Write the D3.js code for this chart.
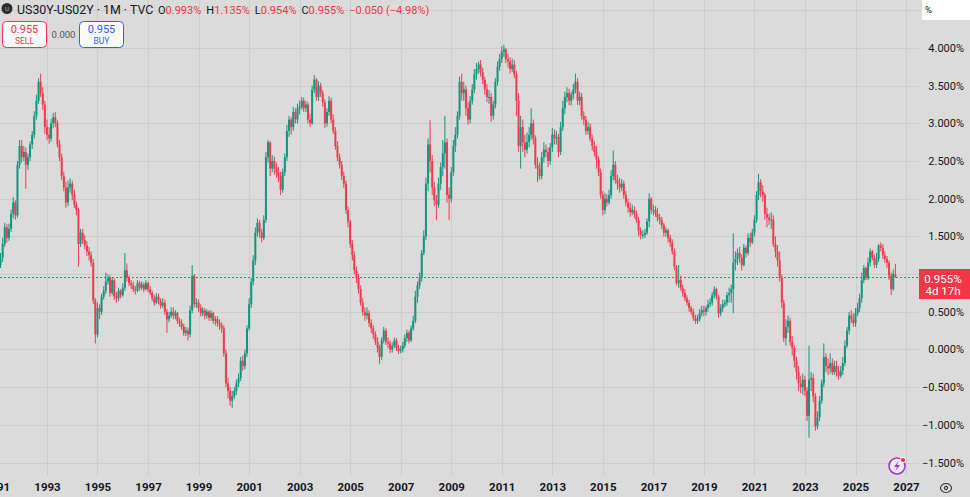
<!DOCTYPE html>
<html>
<head>
<meta charset="utf-8">
<script src="https://cdn.jsdelivr.net/npm/d3@7"></script>
<style>
    html, body { margin: 0; padding: 0; background: #dbdbdb; }
    svg { display: block; font-family: Roboto, "Noto Sans", sans-serif; }
</style>
</head>
<body>
<svg id="chart" width="970" height="497"></svg>
<script>
// Monthly candles of US30Y-US02Y, first candle is Jan 1991, one row per year
const firstMonth = new Date(1991, 0, 1);

const opens = [
    1.05, 1.15, 1.12, 1.22, 1.40, 1.62, 1.48, 1.60, 1.80, 1.95, 1.78, 2.45,
    2.70, 2.55, 2.62, 2.45, 2.55, 2.72, 2.85, 3.10, 3.30, 3.55, 3.40, 3.25,
    2.95, 2.85, 2.80, 3.00, 3.08, 3.00, 2.72, 2.55, 2.30, 2.15, 1.95, 2.15,
    2.20, 2.05, 1.92, 1.85, 1.40, 1.55, 1.45, 1.38, 1.30, 1.25, 1.15, 0.65,
    0.20, 0.55, 0.50, 0.70, 0.78, 0.90, 0.95, 0.75, 0.92, 0.70, 0.68, 0.78,
    0.72, 0.82, 1.05, 0.95, 0.88, 0.85, 0.80, 0.78, 0.88, 0.82, 0.86, 0.80,
    0.88, 0.80, 0.75, 0.68, 0.62, 0.70, 0.65, 0.58, 0.62, 0.50, 0.40, 0.45,
    0.50, 0.45, 0.48, 0.38, 0.35, 0.30, 0.22, 0.25, 0.20, 0.52, 0.98, 0.60,
    0.62, 0.55, 0.48, 0.52, 0.45, 0.50, 0.42, 0.48, 0.38, 0.40, 0.35, 0.32,
    0.28, -0.05, -0.45, -0.55, -0.68, -0.62, -0.55, -0.45, -0.38, -0.15, -0.22, -0.05,
    0.28, 0.60, 0.90, 1.18, 1.55, 1.68, 1.55, 1.48, 1.72, 2.55, 2.75, 2.40,
    2.50, 2.40, 2.35, 2.30, 2.12, 2.35, 2.55, 2.90, 3.05, 2.95, 3.15, 3.05,
    3.20, 3.22, 3.30, 3.20, 3.25, 3.05, 3.00, 3.45, 3.58, 3.35, 3.50, 3.40,
    3.28, 3.00, 3.15, 3.30, 3.05, 2.90, 2.70, 2.55, 2.45, 2.30, 2.20, 1.85,
    1.70, 1.40, 1.25, 1.05, 0.95, 0.80, 0.62, 0.50, 0.45, 0.48, 0.35, 0.28,
    0.20, 0.10, 0.02, -0.10, 0.12, 0.25, 0.10, 0.08, 0.00, 0.05, 0.12, 0.02,
    -0.02, 0.00, 0.05, 0.15, 0.22, 0.12, 0.28, 0.38, 0.70, 0.85, 0.95, 1.28,
    1.50, 2.20, 2.72, 2.50, 2.15, 1.98, 1.92, 2.20, 2.42, 2.60, 2.75, 2.05,
    2.00, 2.35, 2.70, 2.85, 3.10, 3.55, 3.40, 3.45, 3.20, 3.05, 3.30, 3.45,
    3.65, 3.72, 3.78, 3.68, 3.58, 3.45, 3.35, 3.35, 3.10, 3.25, 3.55, 3.75,
    3.85, 3.95, 3.98, 3.85, 3.82, 3.72, 3.78, 3.65, 3.30, 2.70, 2.95, 2.75,
    2.65, 2.75, 2.85, 3.00, 2.80, 2.45, 2.40, 2.30, 2.55, 2.65, 2.62, 2.50,
    2.68, 2.85, 2.80, 2.82, 2.62, 2.95, 3.20, 3.35, 3.40, 3.30, 3.38, 3.45,
    3.55, 3.30, 3.35, 3.10, 3.05, 2.90, 2.95, 2.80, 2.70, 2.62, 2.52, 2.35,
    2.05, 1.85, 2.00, 1.95, 2.05, 2.30, 2.45, 2.25, 2.20, 2.15, 2.20, 2.05,
    1.95, 1.88, 1.82, 1.85, 1.80, 1.72, 1.58, 1.52, 1.52, 1.55, 1.70, 2.00,
    1.85, 1.85, 1.80, 1.75, 1.72, 1.65, 1.55, 1.58, 1.48, 1.42, 1.30, 1.10,
    0.88, 0.92, 0.82, 0.75, 0.68, 0.62, 0.55, 0.50, 0.42, 0.38, 0.40, 0.48,
    0.52, 0.50, 0.55, 0.60, 0.62, 0.72, 0.80, 0.70, 0.48, 0.55, 0.60, 0.62,
    0.72, 0.75, 0.80, 1.15, 1.20, 1.28, 1.22, 1.12, 1.35, 1.28, 1.48, 1.42,
    1.55, 1.72, 2.05, 2.22, 2.10, 2.05, 1.80, 1.75, 1.72, 1.72, 1.40, 1.30,
    1.18, 0.95, 0.62, 0.15, 0.30, 0.38, 0.10, 0.02, -0.15, -0.30, -0.45, -0.50,
    -0.40, -0.55, -0.88, -0.40, -0.38, -0.62, -1.02, -0.90, -0.68, -0.45, -0.10, -0.22,
    -0.25, -0.18, -0.30, -0.22, -0.30, -0.35, -0.28, -0.18, 0.05, 0.25, 0.45, 0.40,
    0.35, 0.48, 0.55, 0.68, 0.92, 1.08, 0.95, 1.15, 1.30, 1.22, 1.12, 1.20,
    1.38, 1.35, 1.25, 1.20, 1.15, 0.98, 0.80, 0.993
];

const highs = [
    1.25, 1.22, 1.28, 1.48, 1.68, 1.66, 1.67, 1.86, 2.02, 1.98, 2.50, 2.78,
    2.78, 2.70, 2.68, 2.60, 2.76, 2.90, 3.16, 3.38, 3.60, 3.66, 3.48, 3.30,
    3.05, 2.95, 3.06, 3.14, 3.15, 3.04, 2.78, 2.60, 2.36, 2.22, 2.24, 2.27,
    2.24, 2.12, 1.96, 1.88, 1.60, 1.60, 1.52, 1.44, 1.36, 1.30, 1.20, 0.68,
    0.62, 0.60, 0.74, 0.84, 1.02, 1.00, 0.98, 0.96, 0.94, 0.76, 0.82, 0.80,
    0.88, 1.28, 1.14, 0.98, 0.92, 0.90, 0.84, 0.92, 0.91, 0.90, 0.89, 0.92,
    0.90, 0.84, 0.78, 0.72, 0.75, 0.74, 0.68, 0.68, 0.66, 0.54, 0.50, 0.56,
    0.56, 0.52, 0.50, 0.42, 0.40, 0.34, 0.30, 0.29, 0.58, 1.12, 1.00, 0.68,
    0.66, 0.60, 0.56, 0.55, 0.53, 0.52, 0.52, 0.50, 0.44, 0.44, 0.40, 0.36,
    0.32, 0.00, -0.38, -0.50, -0.55, -0.50, -0.40, -0.32, -0.10, -0.08, 0.00, 0.32,
    0.68, 0.95, 1.25, 1.62, 1.74, 1.72, 1.60, 1.78, 2.62, 2.78, 2.76, 2.58,
    2.56, 2.48, 2.42, 2.36, 2.40, 2.60, 2.98, 3.10, 3.08, 3.22, 3.20, 3.26,
    3.30, 3.35, 3.34, 3.30, 3.28, 3.12, 3.50, 3.64, 3.60, 3.56, 3.54, 3.44,
    3.32, 3.20, 3.36, 3.34, 3.12, 2.95, 2.76, 2.60, 2.50, 2.36, 2.24, 1.90,
    1.72, 1.45, 1.30, 1.10, 1.00, 0.85, 0.68, 0.56, 0.56, 0.52, 0.40, 0.32,
    0.24, 0.16, 0.06, 0.16, 0.30, 0.28, 0.16, 0.12, 0.09, 0.16, 0.15, 0.06,
    0.05, 0.10, 0.20, 0.26, 0.25, 0.32, 0.45, 0.78, 0.90, 1.02, 1.32, 1.58,
    2.28, 2.80, 3.04, 2.58, 2.22, 2.05, 2.28, 2.48, 2.78, 3.10, 2.80, 2.15,
    2.42, 2.78, 2.95, 3.16, 3.62, 3.66, 3.55, 3.50, 3.28, 3.36, 3.52, 3.72,
    3.80, 3.82, 3.84, 3.74, 3.62, 3.52, 3.44, 3.40, 3.30, 3.60, 3.82, 3.92,
    4.02, 4.04, 4.00, 3.92, 3.88, 3.86, 3.84, 3.70, 3.40, 3.10, 3.05, 2.85,
    2.88, 2.95, 3.20, 3.05, 2.84, 2.55, 2.48, 2.62, 2.75, 2.72, 2.68, 2.74,
    2.94, 2.92, 2.90, 2.86, 3.02, 3.30, 3.42, 3.48, 3.46, 3.42, 3.52, 3.66,
    3.60, 3.42, 3.40, 3.16, 3.10, 3.02, 3.00, 2.85, 2.76, 2.70, 2.56, 2.40,
    2.10, 2.08, 2.06, 2.12, 2.38, 2.64, 2.50, 2.32, 2.28, 2.26, 2.24, 2.10,
    2.00, 1.95, 1.92, 1.90, 1.84, 1.76, 1.62, 1.58, 1.60, 1.74, 2.07, 2.02,
    1.92, 1.90, 1.88, 1.80, 1.76, 1.68, 1.62, 1.60, 1.52, 1.46, 1.34, 1.12,
    1.12, 0.98, 0.86, 0.80, 0.72, 0.66, 0.58, 0.54, 0.46, 0.46, 0.54, 0.58,
    0.58, 0.58, 0.66, 0.68, 0.76, 0.84, 0.82, 0.72, 0.60, 0.66, 0.66, 0.76,
    0.82, 0.86, 1.54, 1.30, 1.34, 1.36, 1.26, 1.40, 1.38, 1.54, 1.55, 1.60,
    1.78, 2.10, 2.33, 2.26, 2.18, 2.08, 1.88, 1.80, 1.82, 1.78, 1.50, 1.38,
    1.30, 1.00, 0.66, 0.40, 0.45, 0.42, 0.18, 0.06, -0.10, -0.22, -0.35, -0.32,
    -0.35, -0.50, 0.05, -0.30, -0.32, -0.58, -0.82, -0.62, -0.40, 0.08, -0.05, -0.12,
    -0.05, -0.12, -0.15, -0.15, -0.22, -0.22, -0.10, 0.12, 0.30, 0.50, 0.52, 0.48,
    0.55, 0.62, 0.74, 1.02, 1.12, 1.10, 1.22, 1.34, 1.32, 1.26, 1.28, 1.40,
    1.42, 1.40, 1.30, 1.24, 1.18, 1.02, 1.06, 1.135
];

const lows = [
    1.00, 1.05, 1.08, 1.16, 1.36, 1.42, 1.44, 1.56, 1.74, 1.72, 1.75, 2.40,
    2.48, 2.50, 2.13, 2.38, 2.50, 2.66, 2.80, 3.05, 3.26, 3.35, 3.18, 2.86,
    2.78, 2.73, 2.76, 2.94, 2.95, 2.68, 2.50, 2.25, 2.10, 1.88, 1.90, 2.08,
    1.98, 1.88, 1.78, 1.10, 1.36, 1.40, 1.33, 1.24, 1.18, 1.10, 0.60, 0.08,
    0.16, 0.40, 0.46, 0.66, 0.74, 0.86, 0.70, 0.72, 0.66, 0.62, 0.64, 0.68,
    0.70, 0.78, 0.90, 0.84, 0.80, 0.76, 0.73, 0.76, 0.78, 0.79, 0.76, 0.78,
    0.76, 0.72, 0.64, 0.58, 0.60, 0.60, 0.54, 0.55, 0.46, 0.22, 0.36, 0.42,
    0.40, 0.40, 0.34, 0.30, 0.26, 0.18, 0.18, 0.12, 0.16, 0.48, 0.56, 0.55,
    0.50, 0.44, 0.44, 0.40, 0.41, 0.38, 0.38, 0.34, 0.32, 0.30, 0.26, 0.22,
    -0.10, -0.50, -0.65, -0.75, -0.78, -0.66, -0.60, -0.50, -0.42, -0.28, -0.26, -0.10,
    0.25, 0.55, 0.85, 1.12, 1.50, 1.48, 1.42, 1.45, 1.68, 2.48, 2.30, 2.35,
    2.32, 2.28, 2.22, 2.05, 2.08, 2.30, 2.50, 2.82, 2.85, 2.90, 3.00, 3.00,
    3.12, 3.18, 3.15, 3.15, 3.00, 2.95, 2.98, 3.40, 3.30, 3.30, 3.35, 3.22,
    2.94, 2.96, 3.10, 3.00, 2.86, 2.65, 2.50, 2.40, 2.25, 2.14, 1.80, 1.62,
    1.35, 1.18, 1.00, 0.88, 0.74, 0.58, 0.45, 0.38, 0.40, 0.30, 0.22, 0.14,
    0.06, -0.04, -0.19, -0.14, 0.08, 0.06, 0.02, -0.05, -0.04, 0.02, -0.02, -0.06,
    -0.05, -0.04, 0.02, 0.10, 0.08, 0.10, 0.25, 0.35, 0.62, 0.80, 0.90, 1.25,
    1.45, 2.10, 2.35, 2.05, 1.90, 1.72, 1.88, 2.12, 2.30, 2.40, 1.95, 1.72,
    1.95, 2.30, 2.62, 2.80, 3.05, 3.30, 3.30, 3.10, 2.98, 3.00, 3.25, 3.40,
    3.58, 3.66, 3.62, 3.52, 3.38, 3.28, 3.26, 3.02, 3.05, 3.20, 3.50, 3.70,
    3.80, 3.88, 3.80, 3.74, 3.66, 3.68, 3.60, 3.10, 2.62, 2.40, 2.62, 2.55,
    2.60, 2.68, 2.78, 2.72, 2.40, 2.22, 2.25, 2.26, 2.48, 2.55, 2.42, 2.45,
    2.62, 2.72, 2.72, 2.55, 2.58, 2.90, 3.12, 3.28, 3.24, 3.24, 3.32, 3.40,
    3.24, 3.24, 3.05, 2.98, 2.85, 2.85, 2.76, 2.64, 2.56, 2.40, 2.30, 2.00,
    1.78, 1.80, 1.90, 1.92, 2.00, 2.24, 2.20, 2.12, 2.08, 2.10, 2.00, 1.90,
    1.82, 1.76, 1.78, 1.74, 1.68, 1.50, 1.46, 1.47, 1.48, 1.52, 1.62, 1.80,
    1.78, 1.76, 1.70, 1.66, 1.60, 1.50, 1.50, 1.42, 1.36, 1.26, 1.05, 0.85,
    0.82, 0.78, 0.70, 0.64, 0.58, 0.50, 0.46, 0.38, 0.34, 0.34, 0.37, 0.44,
    0.44, 0.45, 0.50, 0.56, 0.58, 0.68, 0.66, 0.42, 0.44, 0.50, 0.56, 0.58,
    0.62, 0.62, 0.48, 1.05, 1.12, 1.15, 1.05, 1.10, 1.22, 1.25, 1.36, 1.40,
    1.50, 1.68, 1.98, 2.02, 1.96, 1.72, 1.62, 1.65, 1.60, 1.36, 1.22, 1.10,
    0.90, 0.55, 0.10, 0.05, 0.22, 0.05, -0.08, -0.24, -0.40, -0.55, -0.58, -0.60,
    -0.62, -0.95, -1.17, -0.55, -0.70, -1.08, -1.06, -0.95, -0.72, -0.50, -0.30, -0.34,
    -0.32, -0.34, -0.34, -0.36, -0.40, -0.38, -0.34, -0.22, 0.02, 0.20, 0.35, 0.30,
    0.30, 0.44, 0.50, 0.62, 0.88, 0.92, 0.92, 1.10, 1.18, 1.08, 1.08, 1.16,
    1.30, 1.20, 1.15, 1.08, 0.92, 0.72, 0.78, 0.954
];

const closes = [
    1.15, 1.12, 1.22, 1.40, 1.62, 1.48, 1.60, 1.80, 1.95, 1.78, 2.45, 2.70,
    2.55, 2.62, 2.45, 2.55, 2.72, 2.85, 3.10, 3.30, 3.55, 3.40, 3.25, 2.95,
    2.85, 2.80, 3.00, 3.08, 3.00, 2.72, 2.55, 2.30, 2.15, 1.95, 2.15, 2.20,
    2.05, 1.92, 1.85, 1.40, 1.55, 1.45, 1.38, 1.30, 1.25, 1.15, 0.65, 0.20,
    0.55, 0.50, 0.70, 0.78, 0.90, 0.95, 0.75, 0.92, 0.70, 0.68, 0.78, 0.72,
    0.82, 1.05, 0.95, 0.88, 0.85, 0.80, 0.78, 0.88, 0.82, 0.86, 0.80, 0.88,
    0.80, 0.75, 0.68, 0.62, 0.70, 0.65, 0.58, 0.62, 0.50, 0.40, 0.45, 0.50,
    0.45, 0.48, 0.38, 0.35, 0.30, 0.22, 0.25, 0.20, 0.52, 0.98, 0.60, 0.62,
    0.55, 0.48, 0.52, 0.45, 0.50, 0.42, 0.48, 0.38, 0.40, 0.35, 0.32, 0.28,
    -0.05, -0.45, -0.55, -0.68, -0.62, -0.55, -0.45, -0.38, -0.15, -0.22, -0.05, 0.28,
    0.60, 0.90, 1.18, 1.55, 1.68, 1.55, 1.48, 1.72, 2.55, 2.75, 2.40, 2.50,
    2.40, 2.35, 2.30, 2.12, 2.35, 2.55, 2.90, 3.05, 2.95, 3.15, 3.05, 3.20,
    3.22, 3.30, 3.20, 3.25, 3.05, 3.00, 3.45, 3.58, 3.35, 3.50, 3.40, 3.28,
    3.00, 3.15, 3.30, 3.05, 2.90, 2.70, 2.55, 2.45, 2.30, 2.20, 1.85, 1.70,
    1.40, 1.25, 1.05, 0.95, 0.80, 0.62, 0.50, 0.45, 0.48, 0.35, 0.28, 0.20,
    0.10, 0.02, -0.10, 0.12, 0.25, 0.10, 0.08, 0.00, 0.05, 0.12, 0.02, -0.02,
    0.00, 0.05, 0.15, 0.22, 0.12, 0.28, 0.38, 0.70, 0.85, 0.95, 1.28, 1.50,
    2.20, 2.72, 2.50, 2.15, 1.98, 1.92, 2.20, 2.42, 2.60, 2.75, 2.05, 2.00,
    2.35, 2.70, 2.85, 3.10, 3.55, 3.40, 3.45, 3.20, 3.05, 3.30, 3.45, 3.65,
    3.72, 3.78, 3.68, 3.58, 3.45, 3.35, 3.35, 3.10, 3.25, 3.55, 3.75, 3.85,
    3.95, 3.98, 3.85, 3.82, 3.72, 3.78, 3.65, 3.30, 2.70, 2.95, 2.75, 2.65,
    2.75, 2.85, 3.00, 2.80, 2.45, 2.40, 2.30, 2.55, 2.65, 2.62, 2.50, 2.68,
    2.85, 2.80, 2.82, 2.62, 2.95, 3.20, 3.35, 3.40, 3.30, 3.38, 3.45, 3.55,
    3.30, 3.35, 3.10, 3.05, 2.90, 2.95, 2.80, 2.70, 2.62, 2.52, 2.35, 2.05,
    1.85, 2.00, 1.95, 2.05, 2.30, 2.45, 2.25, 2.20, 2.15, 2.20, 2.05, 1.95,
    1.88, 1.82, 1.85, 1.80, 1.72, 1.58, 1.52, 1.52, 1.55, 1.70, 2.00, 1.85,
    1.85, 1.80, 1.75, 1.72, 1.65, 1.55, 1.58, 1.48, 1.42, 1.30, 1.10, 0.88,
    0.92, 0.82, 0.75, 0.68, 0.62, 0.55, 0.50, 0.42, 0.38, 0.40, 0.48, 0.52,
    0.50, 0.55, 0.60, 0.62, 0.72, 0.80, 0.70, 0.48, 0.55, 0.60, 0.62, 0.72,
    0.75, 0.80, 1.15, 1.20, 1.28, 1.22, 1.12, 1.35, 1.28, 1.48, 1.42, 1.55,
    1.72, 2.05, 2.22, 2.10, 2.05, 1.80, 1.75, 1.72, 1.72, 1.40, 1.30, 1.18,
    0.95, 0.62, 0.15, 0.30, 0.38, 0.10, 0.02, -0.15, -0.30, -0.45, -0.50, -0.40,
    -0.55, -0.88, -0.40, -0.38, -0.62, -1.02, -0.90, -0.68, -0.45, -0.10, -0.22, -0.25,
    -0.18, -0.30, -0.22, -0.30, -0.35, -0.28, -0.18, 0.05, 0.25, 0.45, 0.40, 0.35,
    0.48, 0.55, 0.68, 0.92, 1.08, 0.95, 1.15, 1.30, 1.22, 1.12, 1.20, 1.38,
    1.35, 1.25, 1.20, 1.15, 0.98, 0.80, 1.005, 0.955
];

// Axis ticks
const yearTicks = [1991, 1993, 1995, 1997, 1999, 2001, 2003, 2005, 2007, 2009,
    2011, 2013, 2015, 2017, 2019, 2021, 2023, 2025, 2027];
const priceTicks = [4.5, 4, 3.5, 3, 2.5, 2, 1.5, 1, 0.5, 0, -0.5, -1, -1.5];

// Header
const symbolTitle = 'US30Y-US02Y · 1M · TVC';
const spreadValue = '0.000';
const countdown = '4d 17h';

// Colors
const COLOR_BG = '#dbdbdb',
    COLOR_GRID = '#cdcdcd',
    COLOR_UP = '#12967e',
    COLOR_DOWN = '#ee3b4f',
    COLOR_TEXT = '#131722',
    COLOR_BLUE = '#2962ff';

const W = 970, H = 497,
    paneRight = 919,
    paneBottom = 476;

const svg = d3.select('#chart');

// Scales
const xScale = d3.scaleTime()
    .domain([new Date(1993, 0, 1), new Date(2027, 0, 1)])
    .range([47, 906]);
const yScale = d3.scaleLinear()
    .domain([-1.5, 4])
    .range([462.5, 48]);

const fmtPct = (v) => (v < 0 ? '\u2212' : '') + Math.abs(v).toFixed(3) + '%';

svg.append('rect').attr('width', W).attr('height', H).attr('fill', COLOR_BG);

svg.append('clipPath').attr('id', 'pane')
    .append('rect').attr('width', paneRight).attr('height', paneBottom);

// Grid
const grid = svg.append('g').attr('shape-rendering', 'crispEdges');
grid.selectAll('line.v').data(yearTicks).join('line')
    .attr('class', 'v')
    .attr('x1', (d) => Math.round(xScale(new Date(d, 0, 1))) + 0.5)
    .attr('x2', (d) => Math.round(xScale(new Date(d, 0, 1))) + 0.5)
    .attr('y1', 0)
    .attr('y2', paneBottom)
    .attr('stroke', COLOR_GRID);
grid.selectAll('line.h').data(priceTicks).join('line')
    .attr('class', 'h')
    .attr('x1', 0)
    .attr('x2', paneRight)
    .attr('y1', (d) => Math.round(yScale(d)) + 0.5)
    .attr('y2', (d) => Math.round(yScale(d)) + 0.5)
    .attr('stroke', COLOR_GRID);

// Candles
const candles = closes.map((c, i) => ({
    date: d3.timeMonth.offset(firstMonth, i),
    o: opens[i], h: highs[i], l: lows[i], c
}));
const last = candles[candles.length - 1],
    prev = candles[candles.length - 2];
const colorOf = (d) => d.c >= d.o ? COLOR_UP : COLOR_DOWN;

const plot = svg.append('g').attr('clip-path', 'url(#pane)');
plot.selectAll('line.wick').data(candles).join('line')
    .attr('class', 'wick')
    .attr('x1', (d) => xScale(d.date))
    .attr('x2', (d) => xScale(d.date))
    .attr('y1', (d) => yScale(d.h))
    .attr('y2', (d) => yScale(d.l))
    .attr('stroke', colorOf)
    .attr('stroke-width', 1);
plot.selectAll('rect.body').data(candles).join('rect')
    .attr('class', 'body')
    .attr('x', (d) => xScale(d.date) - 1)
    .attr('width', 2)
    .attr('y', (d) => yScale(Math.max(d.o, d.c)))
    .attr('height', (d) => Math.max(1, Math.abs(yScale(d.o) - yScale(d.c))))
    .attr('fill', colorOf);

// Last price line
const lastY = Math.round(yScale(last.c)) + 0.5;
svg.append('line')
    .attr('x1', 0).attr('x2', paneRight)
    .attr('y1', lastY).attr('y2', lastY)
    .attr('stroke', '#f23645')
    .attr('stroke-width', 1)
    .attr('shape-rendering', 'crispEdges')
    .attr('stroke-dasharray', '2 2');

// Price axis, labels hidden under the last price tag are left out
const yAxis = svg.append('g')
    .attr('transform', 'translate(964,0)')
    .call(d3.axisRight(yScale)
        .tickValues(priceTicks.filter((d) => d <= 4 && Math.abs(yScale(d) - lastY - 6) > 16))
        .tickFormat(fmtPct).tickSize(0).tickPadding(0));
yAxis.select('.domain').remove();
yAxis.selectAll('text')
    .attr('text-anchor', 'end')
    .attr('x', 0)
    .attr('fill', COLOR_TEXT)
    .attr('font-size', 11)
    .attr('font-family', 'Roboto, sans-serif');

// Time axis
const xAxis = svg.append('g')
    .attr('transform', 'translate(0,' + 483 + ')')
    .call(d3.axisBottom(xScale).tickValues(yearTicks.map((y) => new Date(y, 0, 1))).tickFormat(d3.timeFormat('%Y')).tickSize(0).tickPadding(0));
xAxis.select('.domain').remove();
xAxis.selectAll('text')
    .attr('fill', COLOR_TEXT)
    .attr('font-size', 11.5)
    .attr('font-weight', 'bold')
    .attr('font-family', 'Roboto, sans-serif');

// Last price tag
const tag = svg.append('g');
tag.append('rect')
    .attr('x', 919).attr('y', lastY - 8.5)
    .attr('width', 51).attr('height', 30)
    .attr('fill', '#f23645');
tag.append('text')
    .attr('x', 943).attr('y', lastY + 5)
    .attr('text-anchor', 'middle').attr('fill', '#fff').attr('font-size', 11.5)
    .text(fmtPct(last.c));
tag.append('text')
    .attr('x', 943).attr('y', lastY + 17.5)
    .attr('text-anchor', 'middle').attr('fill', '#fff').attr('font-size', 11.5)
    .text(countdown);

// Unit box
svg.append('rect').attr('x', 922).attr('y', 0).attr('width', 48).attr('height', 20).attr('fill', '#fff');
svg.append('text').attr('x', 925).attr('y', 13).attr('font-size', 9.5).attr('fill', COLOR_TEXT).text('%');

// Header
const head = svg.append('g');
head.append('circle').attr('cx', 7).attr('cy', 8.5).attr('r', 5.5).attr('fill', '#2e2e2e');
head.append('text').attr('x', 7).attr('y', 11).attr('text-anchor', 'middle')
    .attr('font-size', 6).attr('fill', '#bbb').text('U');
head.append('text').attr('x', 17).attr('y', 14)
    .attr('font-size', 12.4).attr('fill', COLOR_TEXT).text(symbolTitle);

const change = last.c - prev.c;
const ohlc = head.append('text').attr('x', 158).attr('y', 14).attr('font-size', 11);
[['O', last.o], ['H', last.h], ['L', last.l], ['C', last.c]].forEach(([k, v], i) => {
    ohlc.append('tspan').attr('fill', COLOR_TEXT).attr('dx', i ? 5 : 0).text(k);
    ohlc.append('tspan').attr('fill', '#f23645').text(v.toFixed(3) + '%');
});
ohlc.append('tspan').attr('fill', '#f23645').attr('dx', 5)
    .text((change < 0 ? '\u2212' : '') + Math.abs(change).toFixed(3) + ' (' + (change < 0 ? '\u2212' : '') + Math.abs(change / prev.c * 100).toFixed(2) + '%)');

function tradeBox(x0, color, label) {
    const b = head.append('g');
    b.append('rect').attr('x', x0 + 0.5).attr('y', 21.5).attr('width', 44).attr('height', 26)
        .attr('rx', 4).attr('fill', '#fafafa').attr('stroke', color);
    b.append('text').attr('x', x0 + 22.5).attr('y', 33).attr('text-anchor', 'middle')
        .attr('font-size', 11).attr('fill', color).text(last.c.toFixed(3));
    b.append('text').attr('x', x0 + 22.5).attr('y', 44).attr('text-anchor', 'middle')
        .attr('font-size', 8.5).attr('fill', color).text(label);
}
tradeBox(2, '#f23645', 'SELL');
tradeBox(79, COLOR_BLUE, 'BUY');
head.append('text').attr('x', 63.5).attr('y', 37.5).attr('text-anchor', 'middle')
    .attr('font-size', 9.5).attr('fill', '#555').text(spreadValue);

// Corner icons
const bolt = svg.append('g').attr('transform', 'translate(897,466)');
bolt.append('circle').attr('r', 8).attr('fill', '#f0eaf4').attr('stroke', '#a13bc9').attr('stroke-width', 1.6);
bolt.append('path').attr('d', 'M1.5,-5 L-3,1 L0,1 L-1.5,5 L3,-1 L0,-1 Z').attr('fill', '#a13bc9');
bolt.append('circle').attr('cx', 6).attr('cy', -6).attr('r', 2.6).attr('fill', '#f23645').attr('stroke', '#fff').attr('stroke-width', 1);

const gear = svg.append('g').attr('transform', 'translate(946,488)');
gear.append('ellipse').attr('rx', 5.5).attr('ry', 4.5).attr('fill', 'none').attr('stroke', '#333').attr('stroke-width', 1.1);
gear.append('circle').attr('r', 1.6).attr('fill', 'none').attr('stroke', '#333').attr('stroke-width', 1.1);
</script>
</body>
</html>
